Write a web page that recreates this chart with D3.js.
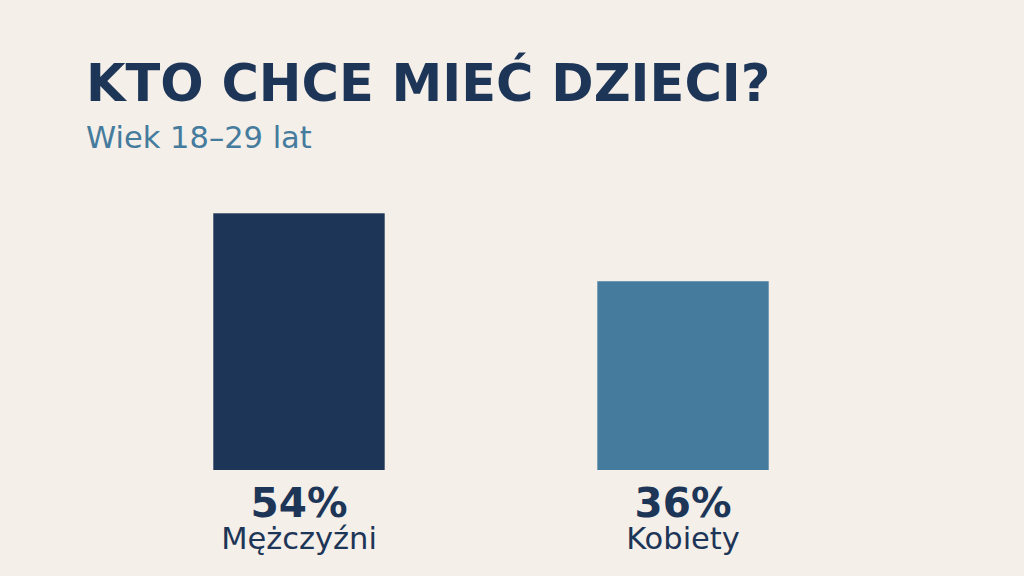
<!DOCTYPE html>
<html><head><meta charset="utf-8">
<script src="https://cdn.jsdelivr.net/npm/d3@7"></script>
<style>html,body{margin:0;padding:0;background:#f4efe9;}svg{display:block;}</style>
</head><body>
<svg id="chart" width="1024" height="576"></svg>
<script>
const categories = ["Mężczyźni", "Kobiety"];
const values = [54, 36];
const valueLabels = ["54%", "36%"];
const colors = ["#1d3557", "#457b9d"];
const title = "KTO CHCE MIEĆ DZIECI?";
const subtitle = "Wiek 18–29 lat";

const W = 1024, H = 576;
const svg = d3.select("#chart");
svg.append("rect").attr("width", W).attr("height", H).attr("fill", "#f4efe9");

const x = d3.scaleBand().domain(categories).range([213.3, 768.7]).paddingInner(0.5537).paddingOuter(0);
const y = d3.scaleLinear().domain([-14, 60]).range([470, 190.65]);

svg.append("text").attr("x", 86).attr("y", 101)
  .attr("font-family", "DejaVu Sans").attr("font-weight", "bold").attr("font-size", 51)
  .attr("fill", "#1d3557").text(title);
svg.append("text").attr("x", 86).attr("y", 148)
  .attr("font-family", "DejaVu Sans").attr("font-size", 30.5)
  .attr("fill", "#457b9d").text(subtitle);

const g = svg.append("g");
g.selectAll("rect.bar").data(values).join("rect")
  .attr("class", "bar")
  .attr("x", (d, i) => x(categories[i]))
  .attr("width", x.bandwidth())
  .attr("y", d => y(d))
  .attr("height", d => y(-14) - y(d))
  .attr("fill", (d, i) => colors[i]);

g.selectAll("text.val").data(valueLabels).join("text")
  .attr("class", "val")
  .attr("x", (d, i) => x(categories[i]) + x.bandwidth() / 2)
  .attr("y", 516.5)
  .attr("text-anchor", "middle")
  .attr("font-family", "DejaVu Sans").attr("font-weight", "bold").attr("font-size", 40.5)
  .attr("fill", "#1d3557").text(d => d);

g.selectAll("text.cat").data(categories).join("text")
  .attr("class", "cat")
  .attr("x", (d, i) => x(d) + x.bandwidth() / 2)
  .attr("y", 549)
  .attr("text-anchor", "middle")
  .attr("font-family", "DejaVu Sans").attr("font-size", 30.5)
  .attr("fill", "#1d3557").text(d => d);
</script>
</body></html>
